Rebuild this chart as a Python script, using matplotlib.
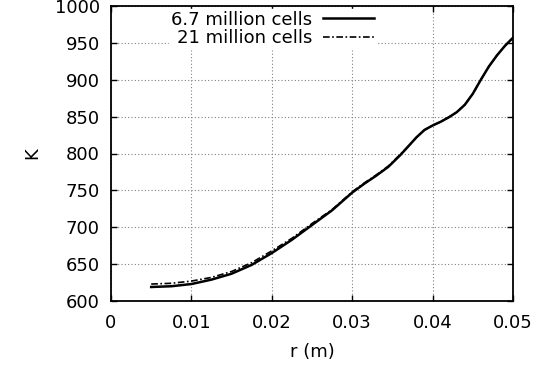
import numpy as np
import matplotlib
matplotlib.use('Agg')
import matplotlib.pyplot as plt

# temperature profile along r
r = [0.005, 0.0075, 0.01, 0.0125, 0.015, 0.0175, 0.02, 0.0225, 0.025, 0.0275,
     0.03, 0.0315, 0.033, 0.0345, 0.036, 0.037, 0.038, 0.039, 0.04, 0.041,
     0.042, 0.043, 0.044, 0.045, 0.046, 0.047, 0.048, 0.049, 0.05]
t_coarse = [619, 620, 623, 629, 637, 649, 665, 683, 703, 723,
            747, 759, 770, 782, 798, 810, 822, 832, 838, 843,
            849, 856, 866, 881, 900, 918, 933, 946, 957]
t_fine = [623, 624, 627, 632, 640, 652, 668, 685, 705, 724,
          748, 760, 771, 783, 799, 810, 822, 832, 838, 843,
          849, 856, 866, 881, 900, 918, 933, 946, 957]

labels = ['6.7 million cells', '21 million cells']
xticks = [0, 0.01, 0.02, 0.03, 0.04, 0.05]
xticklabels = ['0', '0.01', '0.02', '0.03', '0.04', '0.05']
yticks = [600, 650, 700, 750, 800, 850, 900, 950, 1000]

plt.rcParams['font.family'] = 'DejaVu Sans'
plt.rcParams['font.size'] = 13

fig = plt.figure(figsize=(5.45, 3.65), dpi=100)
ax = fig.add_axes([111 / 545, 64 / 365, 402 / 545, 295 / 365])

ax.plot(r, t_coarse, color='black', lw=1.8, label=labels[0])
ax.plot(r, t_fine, color='black', lw=1.2, linestyle=(0, (4, 1.5, 1, 1.5)), label=labels[1])

ax.set_xlim(0, 0.05)
ax.set_ylim(600, 1000)
ax.set_xticks(xticks)
ax.set_xticklabels(xticklabels)
ax.set_yticks(yticks)
ax.tick_params(direction='in', top=True, right=True, length=4, width=1)
ax.tick_params(axis='x', pad=9)
ax.tick_params(axis='y', pad=8)
ax.grid(True, linestyle=(0, (1, 2)), color='gray', lw=0.8)
ax.set_axisbelow(True)
for s in ax.spines.values():
    s.set_linewidth(1.3)

ax.set_xlabel('r (m)', labelpad=8)
ax.set_ylabel('K', rotation=90, labelpad=10)

leg = ax.legend(loc='upper right', bbox_to_anchor=(0.665, 1.0), markerfirst=False,
                frameon=True, fancybox=False, handlelength=2.8, handletextpad=0.6,
                labelspacing=0.05, borderpad=0.1, borderaxespad=0.15)
leg.get_frame().set_facecolor('white')
leg.get_frame().set_edgecolor('white')
leg.get_frame().set_alpha(1)

fig.savefig('out.png', dpi=100)
